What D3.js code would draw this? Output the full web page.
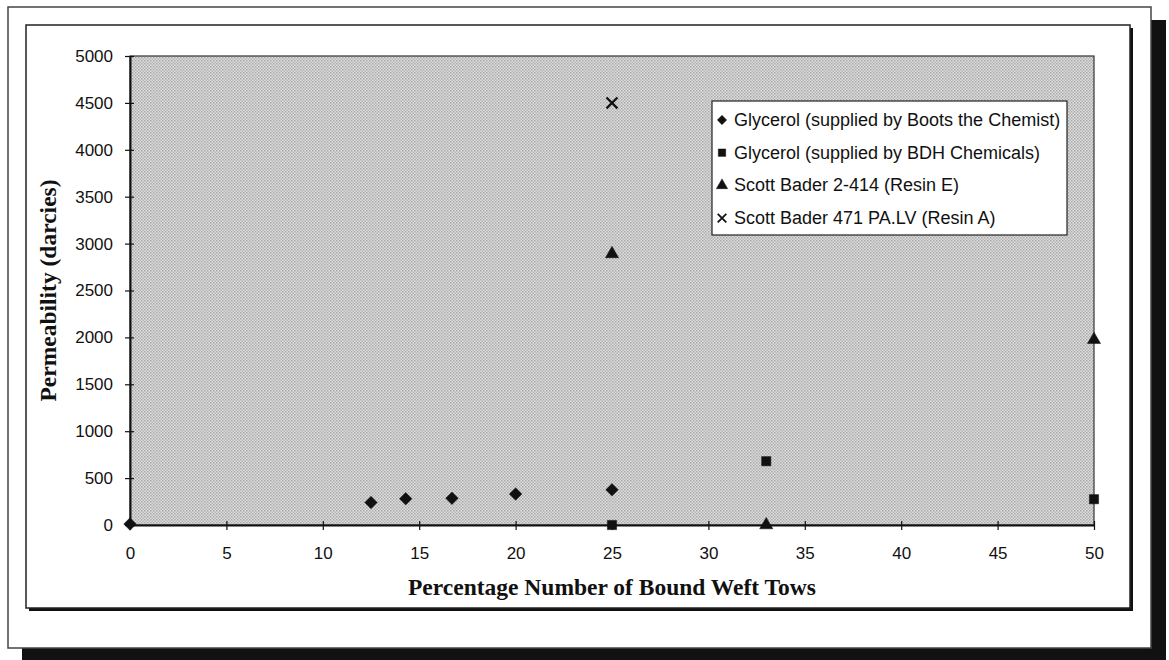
<!DOCTYPE html>
<html>
<head>
<meta charset="utf-8">
<script src="https://cdn.jsdelivr.net/npm/d3@7"></script>
<style>
  body { margin: 0; background: #fff; }
  svg { display: block; }
</style>
</head>
<body>
<div id="chart"></div>
<script>
// series data
var bootsX = [0, 12.5, 14.3, 16.7, 20, 25];
var bootsY = [10, 240, 280, 285, 330, 375];
var bdhX = [25, 33, 50];
var bdhY = [0, 680, 275];
var resinEX = [25, 33, 50];
var resinEY = [2890, 0, 1975];
var resinAX = [25];
var resinAY = [4500];

var xTicks = [0, 5, 10, 15, 20, 25, 30, 35, 40, 45, 50];
var yTicks = [0, 500, 1000, 1500, 2000, 2500, 3000, 3500, 4000, 4500, 5000];
var legendNames = [
  "Glycerol (supplied by Boots the Chemist)",
  "Glycerol (supplied by BDH Chemicals)",
  "Scott Bader 2-414 (Resin E)",
  "Scott Bader 471 PA.LV (Resin A)"
];

function init() {
  var width = 1169;
  var height = 660;
  var left = 130, right = 1094, top = 56, bottom = 525;

  var svg = d3.select("#chart")
    .append("svg")
    .attr("width", width)
    .attr("height", height);

  // dotted grey fill of the plot area
  var defs = svg.append("defs");
  var pat = defs.append("pattern")
    .attr("id", "dots")
    .attr("width", 3)
    .attr("height", 3)
    .attr("patternUnits", "userSpaceOnUse");
  pat.append("rect").attr("width", 3).attr("height", 3).attr("fill", "#dedede");
  pat.append("rect").attr("x", 0).attr("y", 0).attr("width", 1.5).attr("height", 1.5).attr("fill", "#a8a8a8");
  pat.append("rect").attr("x", 1.5).attr("y", 1.5).attr("width", 1.5).attr("height", 1.5).attr("fill", "#b4b4b4");

  // outer frame with heavy shadow
  svg.append("rect").attr("x", 22).attr("y", 20).attr("width", 1144).attr("height", 640).attr("fill", "#111");
  svg.append("rect").attr("x", 8).attr("y", 7).attr("width", 1143).attr("height", 641)
    .attr("fill", "#fff").attr("stroke", "#444").attr("stroke-width", 1.5);

  // inner chart frame with thin shadow
  svg.append("rect").attr("x", 29).attr("y", 28).attr("width", 1104).attr("height", 583).attr("fill", "#111");
  svg.append("rect").attr("x", 26).attr("y", 25).attr("width", 1104).attr("height", 583)
    .attr("fill", "#fff").attr("stroke", "#222").attr("stroke-width", 1.5);

  var xScale = d3.scaleLinear().domain([0, 50]).range([left, right]);
  var yScale = d3.scaleLinear().domain([0, 5000]).range([bottom, top]);

  // plot area
  svg.append("rect")
    .attr("x", left).attr("y", top)
    .attr("width", right - left).attr("height", bottom - top)
    .attr("fill", "url(#dots)")
    .attr("stroke", "#333").attr("stroke-width", 1.2);

  var xAxis = d3.axisBottom(xScale).tickValues(xTicks).tickFormat(d3.format("d"))
    .tickSizeInner(5).tickSizeOuter(0).tickPadding(17);
  var yAxis = d3.axisLeft(yScale).tickValues(yTicks).tickFormat(d3.format("d"))
    .tickSizeInner(5).tickSizeOuter(0).tickPadding(12);

  var gx = svg.append("g")
    .attr("transform", "translate(0," + bottom + ")")
    .call(xAxis);
  var gy = svg.append("g")
    .attr("transform", "translate(" + left + ",0)")
    .call(yAxis);

  [gx, gy].forEach(function(g) {
    g.select(".domain").attr("stroke", "#111").attr("stroke-width", 2);
    g.selectAll(".tick line").attr("stroke", "#111").attr("stroke-width", 1.2);
    g.selectAll(".tick text")
      .attr("font-family", "Liberation Sans, Arial, sans-serif")
      .attr("font-size", "17px")
      .attr("fill", "#111");
  });
  // ticks cross the axis lines
  gx.selectAll(".tick line").attr("y1", -4).attr("y2", 5);
  gy.selectAll(".tick line").attr("x1", 4).attr("x2", -5);

  // axis titles
  svg.append("text")
    .attr("x", (left + right) / 2)
    .attr("y", 595)
    .attr("text-anchor", "middle")
    .attr("font-family", "Liberation Serif, Times New Roman, serif")
    .attr("font-weight", "bold")
    .attr("font-size", "23.5px")
    .attr("fill", "#111")
    .text("Percentage Number of Bound Weft Tows");

  svg.append("text")
    .attr("transform", "translate(56," + (top + bottom) / 2 + ") rotate(-90)")
    .attr("text-anchor", "middle")
    .attr("font-family", "Liberation Serif, Times New Roman, serif")
    .attr("font-weight", "bold")
    .attr("font-size", "23.5px")
    .attr("fill", "#111")
    .text("Permeability (darcies)");

  var symbols = [d3.symbolDiamond2, d3.symbolSquare, d3.symbolTriangle, d3.symbolX];
  var sizes = [100, 85, 75, 80];
  var series = [
    d3.zip(bootsX, bootsY),
    d3.zip(bdhX, bdhY),
    d3.zip(resinEX, resinEY),
    d3.zip(resinAX, resinAY)
  ];

  series.forEach(function(data, i) {
    var sym = d3.symbol().type(symbols[i]).size(sizes[i]);
    svg.append("g").selectAll("path")
      .data(data)
      .enter()
      .append("path")
      .attr("transform", function(d) {
        return "translate(" + xScale(d[0]) + "," + yScale(d[1]) + ")";
      })
      .attr("d", sym)
      .attr("fill", i == 3 ? "none" : "#111")
      .attr("stroke", "#111")
      .attr("stroke-width", i == 3 ? 2.2 : 0.5);
  });

  // legend
  var lg = svg.append("g");
  lg.append("rect")
    .attr("x", 712).attr("y", 101)
    .attr("width", 355).attr("height", 134)
    .attr("fill", "#fff")
    .attr("stroke", "#222").attr("stroke-width", 1.2);

  legendNames.forEach(function(name, i) {
    var ly = 120 + i * 32.7;
    var sym = d3.symbol().type(symbols[i]).size(i == 3 ? 50 : 55);
    lg.append("path")
      .attr("transform", "translate(722," + ly + ")")
      .attr("d", sym)
      .attr("fill", i == 3 ? "none" : "#111")
      .attr("stroke", "#111")
      .attr("stroke-width", i == 3 ? 1.8 : 0.5);
    lg.append("text")
      .attr("x", 734)
      .attr("y", ly + 6)
      .attr("font-family", "Liberation Sans, Arial, sans-serif")
      .attr("font-size", "18px")
      .attr("fill", "#111")
      .text(name);
  });
}
window.onload = init;
</script>
</body>
</html>
